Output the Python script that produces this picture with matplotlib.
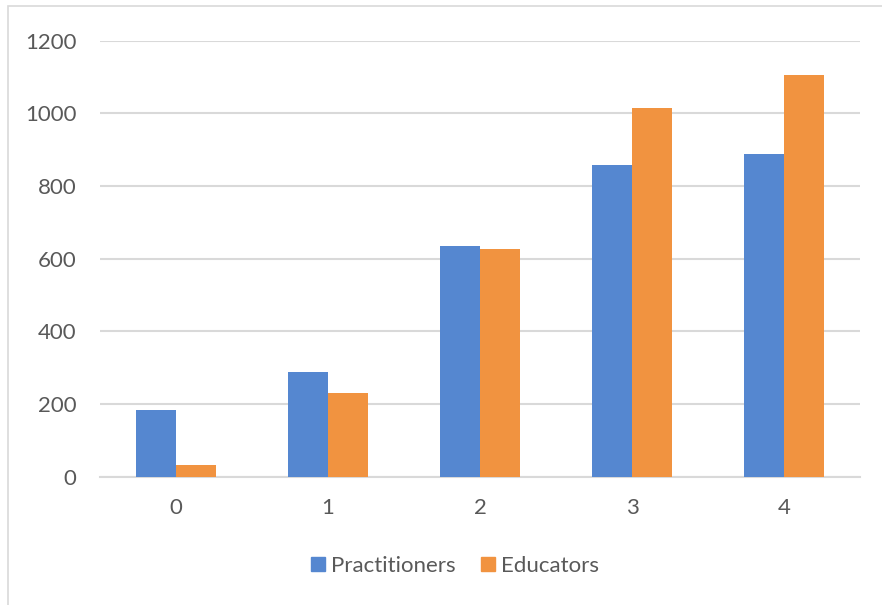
import matplotlib.pyplot as plt
import matplotlib.patches as mpatches
import numpy as np

# data
categories = ['0', '1', '2', '3', '4']
practitioners = [184, 288, 635, 858, 887]
educators = [31, 231, 627, 1015, 1105]
y_ticks = [0, 200, 400, 600, 800, 1000, 1200]

blue = '#5587d0'
orange = '#f19340'
grid_color = '#d9d9d9'
text_color = '#595959'

plt.rcParams['font.family'] = ['Lato', 'DejaVu Sans']

fig = plt.figure(figsize=(8.82, 6.05), dpi=100)
ax = fig.add_axes([100 / 882, 1 - 476.7 / 605, 760 / 882, 436 / 605])

x = np.arange(len(categories))
width = 0.265
ax.bar(x - width / 2, practitioners, width, color=blue, label='Practitioners', zorder=3)
ax.bar(x + width / 2, educators, width, color=orange, label='Educators', zorder=3)

ax.set_xlim(-0.5, len(categories) - 0.5)
ax.set_ylim(0, 1200)
ax.set_yticks(y_ticks)
ax.set_xticks(x)
ax.set_xticklabels(categories)
ax.yaxis.grid(True, color=grid_color, linewidth=1.5, zorder=0)
ax.set_axisbelow(True)
for side in ['top', 'right', 'left']:
    ax.spines[side].set_visible(False)
ax.spines['bottom'].set_color(grid_color)
ax.spines['bottom'].set_linewidth(1.5)
ax.tick_params(axis='both', length=0, labelsize=16, labelcolor=text_color)
ax.tick_params(axis='y', pad=17)
ax.tick_params(axis='x', pad=15)

# legend below the plot
handles = [mpatches.Patch(color=blue), mpatches.Patch(color=orange)]
leg = fig.legend(handles, ['Practitioners', 'Educators'], loc='center',
                 bbox_to_anchor=(455 / 882, 1 - 566 / 605), ncol=2, frameon=False,
                 fontsize=16, handlelength=0.63, handleheight=0.63,
                 handletextpad=0.25, columnspacing=1.15)
for t in leg.get_texts():
    t.set_color(text_color)

# chart area border (cut off at the right and bottom)
fig.add_artist(mpatches.Rectangle((8 / 882, -0.1), 1.0, 1 - 6 / 605 + 0.1,
                                  transform=fig.transFigure, fill=False,
                                  edgecolor=grid_color, linewidth=1.2))

fig.savefig('out.png', dpi=100)
